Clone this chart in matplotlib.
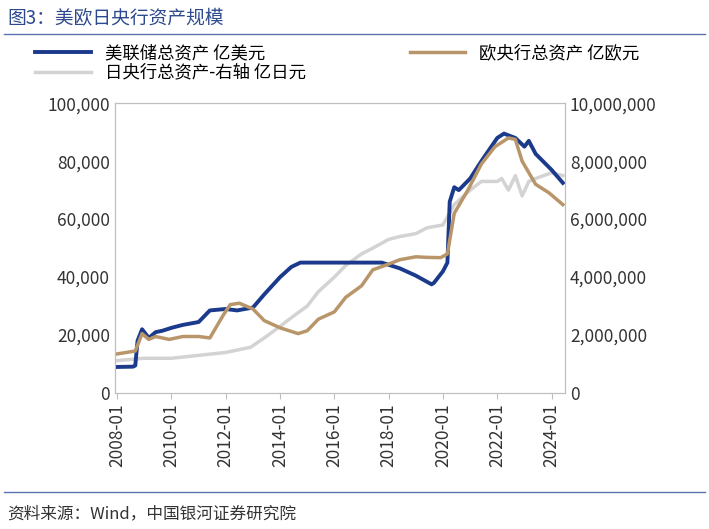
import pandas as pd
import matplotlib.pyplot as plt
import matplotlib.ticker as mticker

plt.rcParams['font.family'] = ['Noto Sans CJK SC', 'DejaVu Sans']

fed_dates = ["2008-01", "2008-08", "2008-09", "2008-10", "2008-12", "2009-03", "2009-06", "2009-09",
             "2010-01", "2010-06", "2011-01", "2011-06", "2012-01", "2012-06", "2013-01", "2013-06",
             "2014-01", "2014-06", "2014-10", "2015-01", "2017-10", "2018-06", "2019-01", "2019-08",
             "2019-09", "2020-01", "2020-03", "2020-04", "2020-06", "2020-08", "2021-01", "2021-06",
             "2022-01", "2022-04", "2022-09", "2023-01", "2023-03", "2023-06", "2024-01", "2024-06"]
fed_vals = [9000, 9100, 9500, 18000, 22000, 19000, 21000, 21500, 22500, 23500, 24500, 28500,
            29000, 28500, 29500, 34000, 40000, 43500, 45000, 45000, 45000, 43000, 40500, 37500,
            38000, 42000, 45000, 66000, 71000, 70000, 74000, 80000, 88000, 89500, 88000, 85000,
            87000, 82500, 77000, 72500]

ecb_dates = ["2008-01", "2008-09", "2008-12", "2009-03", "2009-06", "2009-12", "2010-06", "2011-01",
             "2011-06", "2011-12", "2012-03", "2012-07", "2013-01", "2013-06", "2014-01", "2014-09",
             "2015-01", "2015-06", "2016-01", "2016-06", "2017-01", "2017-06", "2018-01", "2018-06",
             "2019-01", "2019-06", "2019-12", "2020-03", "2020-06", "2020-12", "2021-06", "2021-12",
             "2022-06", "2022-09", "2022-12", "2023-06", "2023-12", "2024-06"]
ecb_vals = [13500, 14500, 20500, 18500, 19500, 18500, 19500, 19500, 19000, 27000, 30500, 31000,
            29000, 25000, 22500, 20500, 21500, 25500, 28000, 33000, 37000, 42500, 44500, 46000,
            47000, 46800, 46700, 48000, 62000, 70000, 79000, 85000, 88000, 87500, 80000, 72000,
            69000, 65000]

boj_dates = ["2008-01", "2009-01", "2010-01", "2011-01", "2012-01", "2012-12", "2013-06", "2014-01",
             "2014-06", "2015-01", "2015-06", "2016-01", "2016-06", "2017-01", "2017-06", "2018-01",
             "2018-06", "2019-01", "2019-06", "2020-01", "2020-06", "2021-01", "2021-06", "2022-01",
             "2022-03", "2022-06", "2022-09", "2022-12", "2023-03", "2023-06", "2024-01", "2024-06"]
boj_vals = [1120000, 1200000, 1200000, 1300000, 1400000, 1580000, 1900000, 2300000, 2600000,
            3000000, 3500000, 4000000, 4400000, 4800000, 5000000, 5300000, 5400000, 5500000,
            5700000, 5800000, 6500000, 7000000, 7300000, 7300000, 7400000, 7000000, 7500000,
            6800000, 7300000, 7400000, 7600000, 7500000]

tick_labels = ["2008-01", "2010-01", "2012-01", "2014-01", "2016-01", "2018-01", "2020-01", "2022-01", "2024-01"]

fig = plt.figure(figsize=(7.09, 5.29), dpi=100)
ax = fig.add_axes([0.162, 0.257, 0.635, 0.548])
ax2 = ax.twinx()

l3, = ax2.plot(pd.to_datetime(boj_dates), boj_vals, color="#D3D3D3", lw=2.5, label="日央行总资产-右轴 亿日元")
l1, = ax.plot(pd.to_datetime(fed_dates), fed_vals, color="#1B3A8C", lw=2.8, label="美联储总资产 亿美元")
l2, = ax.plot(pd.to_datetime(ecb_dates), ecb_vals, color="#B8966A", lw=2.5, label="欧央行总资产 亿欧元")
ax.set_zorder(ax2.get_zorder() + 1)
ax.patch.set_visible(False)

ax.set_ylim(0, 100000)
ax2.set_ylim(0, 10000000)
ax.set_xlim(pd.Timestamp("2007-12-01"), pd.Timestamp("2024-07-01"))
ax.yaxis.set_major_formatter(mticker.FuncFormatter(lambda v, p: f"{v:,.0f}"))
ax2.yaxis.set_major_formatter(mticker.FuncFormatter(lambda v, p: f"{v:,.0f}"))
ax.set_xticks(pd.to_datetime(tick_labels))
ax.set_xticklabels(tick_labels, rotation=90)
for a in (ax, ax2):
    a.tick_params(labelsize=12.5, colors="#333333", length=0)
    for s in a.spines.values():
        s.set_color("#BFBFBF")
ax.tick_params(axis="x", length=4, color="#BFBFBF")

# 按行排列：第一行美联储、欧央行，第二行日央行
fig.legend(handles=[l1, l3, l2], loc="upper left", bbox_to_anchor=(0.04, 0.93), ncol=2,
           frameon=False, fontsize=12.5, handlelength=3.2, columnspacing=6.0,
           labelspacing=0.1, borderaxespad=0)

fig.text(0.01, 0.965, "图3：美欧日央行资产规模", fontsize=13.5, color="#2E4A8E", va="center")
fig.add_artist(plt.Line2D([0.005, 0.995], [0.935, 0.935], color="#5A74B0", lw=1))
fig.add_artist(plt.Line2D([0.005, 0.995], [0.07, 0.07], color="#5A74B0", lw=1))
fig.text(0.01, 0.028, "资料来源：Wind，中国银河证券研究院", fontsize=12, style="italic",
         color="#333333", va="center")

fig.savefig("out.png", dpi=100)
